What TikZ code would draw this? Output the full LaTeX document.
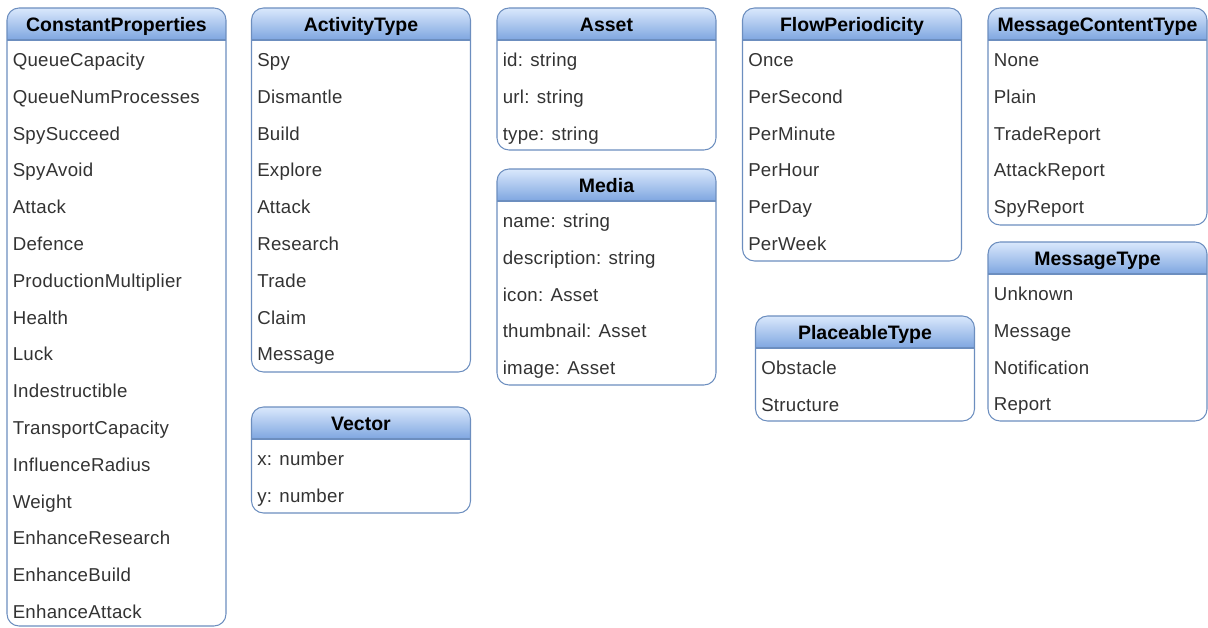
\documentclass[tikz,border=0pt]{standalone}
\usepackage{fontspec}
\setmainfont{Liberation Sans}
\newfontfamily\entryfont[LetterSpace=1.5]{Liberation Sans}
\usetikzlibrary{calc}

\definecolor{hdrtop}{HTML}{DAE8FC}
\definecolor{hdrbot}{HTML}{7EA6E0}
\definecolor{frameblue}{HTML}{6C8EBF}
\definecolor{itemtext}{HTML}{333333}

\tikzset{
  boxbody/.style={rectangle, draw=none, fill=white, inner sep=0pt, outer sep=0pt,
    minimum width=164.25pt, anchor=north west},
  boxline/.style={draw=frameblue, line width=0.8pt},
  titletext/.style={font=\fontsize{14.6}{16}\selectfont\bfseries, text=black, inner sep=0pt, anchor=base},
  itemtext/.style={font=\entryfont\fontsize{14}{16}\selectfont, text=itemtext, inner sep=0pt, anchor=base west},
}

% #1 name, #2 left (px), #3 top (px), #4 height (px), #5 title, #6 entries
\newcommand\classbox[6]{%
  \node[boxbody, minimum height=#4*0.75pt] (#1) at (#2,#3) {};
  \begin{scope}
    \clip[rounded corners=9pt] (#1.north west) rectangle (#1.south east);
    \shade[top color=hdrtop, bottom color=hdrbot]
      (#1.north west) rectangle ([yshift=-24pt]#1.north east);
  \end{scope}
  \draw[boxline, rounded corners=9pt] (#1.north west) rectangle (#1.south east);
  \draw[boxline] ([yshift=-24pt]#1.north west) -- ([yshift=-24pt]#1.north east);
  \node[titletext] (#1-title) at (#2+109.5,#3+23.5) {#5};
  \foreach \t [count=\i] in {#6} {
    \node[itemtext] (#1-\i) at (#2+5.5,#3+58.5+36.8*\i-36.8) {\t};
  }
}

\begin{document}
\begin{tikzpicture}[x=0.75pt,y=-0.75pt]
\useasboundingbox (0,0) rectangle (1208,628);

\classbox{constprops}{7}{8}{618}{ConstantProperties}{QueueCapacity,QueueNumProcesses,SpySucceed,SpyAvoid,Attack,Defence,ProductionMultiplier,Health,Luck,Indestructible,TransportCapacity,InfluenceRadius,Weight,EnhanceResearch,EnhanceBuild,EnhanceAttack}

\classbox{activity}{251.5}{8}{364}{ActivityType}{Spy,Dismantle,Build,Explore,Attack,Research,Trade,Claim,Message}

\classbox{vector}{251.5}{407}{106}{Vector}{x: number,y: number}

\classbox{asset}{497}{8}{142}{Asset}{id: string,url: string,type: string}

\classbox{media}{497}{169}{216}{Media}{name: string,description: string,icon: Asset,thumbnail: Asset,image: Asset}

\classbox{flow}{742.5}{8}{253}{FlowPeriodicity}{Once,PerSecond,PerMinute,PerHour,PerDay,PerWeek}

\classbox{placeable}{755.5}{316}{105}{PlaceableType}{Obstacle,Structure}

\classbox{msgcontent}{988}{8}{217}{MessageContentType}{None,Plain,TradeReport,AttackReport,SpyReport}

\classbox{msgtype}{988}{242}{179}{MessageType}{Unknown,Message,Notification,Report}

\end{tikzpicture}
\end{document}
